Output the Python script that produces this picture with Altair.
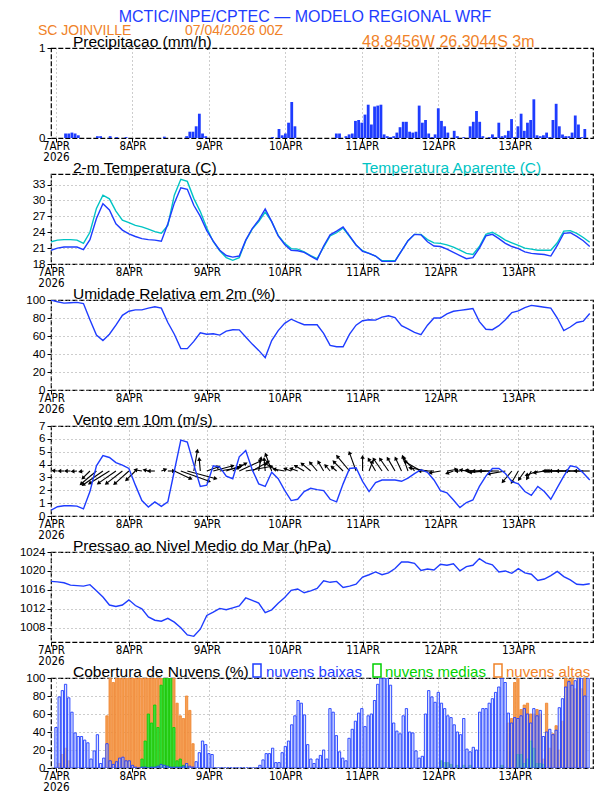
import altair as alt
import pandas as pd

# ---------------- data ----------------
HOURS = list(range(168))            # hourly steps from 07/04/2026 00Z
LINE_HOURS = list(range(0, 168, 2))  # 2-hourly samples for the curves
DAY_TICKS = [0, 24, 48, 72, 96, 120, 144]
DAY_LABELS = ["7APR", "8APR", "9APR", "10APR", "11APR", "12APR", "13APR"]
YEAR_LABEL = "2026"

PRECIP = [
    0, 0, 0, 0.05, 0.05, 0.06, 0.05, 0.03, 0, 0, 0, 0,
    0, 0.02, 0.02, 0, 0, 0.02, 0, 0.01, 0, 0, 0.01, 0,
    0, 0, 0, 0, 0, 0, 0, 0, 0, 0, 0.015, 0,
    0, 0, 0, 0, 0, 0.02, 0.07, 0.07, 0.13, 0.27, 0.05, 0.02,
    0, 0, 0, 0, 0, 0, 0, 0, 0, 0, 0, 0,
    0, 0, 0, 0, 0, 0, 0, 0, 0.01, 0, 0.1, 0.03,
    0.05, 0.17, 0.4, 0.13, 0, 0, 0, 0, 0, 0, 0, 0,
    0, 0, 0, 0, 0.05, 0.05, 0, 0.02, 0.04, 0.05, 0.19, 0.2,
    0.17, 0.26, 0.37, 0.15, 0.35, 0.36, 0.37, 0.04, 0.02, 0.01, 0.02, 0.06,
    0.12, 0.18, 0.18, 0.07, 0.06, 0.07, 0.36, 0.17, 0.2, 0.05, 0.01, 0.04,
    0.33, 0.19, 0.13, 0.06, 0, 0.08, 0.02, 0, 0.01, 0, 0.13, 0.18,
    0.3, 0.18, 0.02, 0, 0.01, 0.04, 0.01, 0.17, 0.02, 0.03, 0.08, 0.21,
    0.01, 0.13, 0.27, 0.08, 0.17, 0.2, 0.43, 0.03, 0.02, 0.03, 0.06, 0.01,
    0.2, 0.38, 0.13, 0.04, 0.02, 0.02, 0.06, 0.25, 0.15, 0.01, 0.1, 0,
]

TEMP = [
    20.6, 21.0, 21.2, 21.2, 21.2, 20.7, 22.6, 26.6, 29.4, 28.2,
    25.6, 24.4, 23.7, 23.2, 22.8, 22.6, 22.5, 22.3, 25.6, 29.5,
    32.4, 32.1, 29.1, 27.0, 24.3, 22.3, 20.6, 19.6, 19.3, 19.5,
    22.5, 24.7, 26.3, 28.4, 26.0, 23.3, 21.7, 20.6, 20.5, 20.2,
    19.5, 18.8, 21.4, 23.5, 24.2, 25.0, 23.3, 21.6, 20.4, 20.0,
    19.5, 18.5, 18.5, 18.5, 20.5, 22.4, 23.6, 23.5, 22.2, 21.4,
    21.3, 20.8, 20.2, 19.6, 19.0, 19.2, 21.0, 23.3, 23.6, 22.8,
    21.9, 21.3, 20.9, 20.3, 20.0, 19.9, 19.8, 19.5, 21.5, 23.8,
    23.9, 23.2, 22.4, 21.3,
]

TEMP_APP = [
    22.2, 22.5, 22.6, 22.6, 22.5, 21.9, 24.0, 28.5, 31.0, 30.3,
    28.0, 26.3, 25.8, 25.3, 25.0, 24.6, 24.1, 23.8, 25.3, 31.0,
    34.0, 33.6, 30.4, 27.9, 24.8, 22.2, 20.5, 19.2, 18.7, 19.2,
    22.4, 24.6, 26.0, 27.8, 26.0, 23.4, 21.9, 20.9, 20.8, 20.3,
    19.6, 19.0, 21.2, 23.3, 23.9, 24.8, 23.2, 21.6, 20.5, 20.0,
    19.5, 18.6, 18.6, 18.6, 20.5, 22.4, 23.6, 23.6, 22.6, 22.0,
    21.9, 21.6, 21.2, 20.6, 20.0, 19.8, 21.3, 23.6, 24.0, 23.3,
    22.5, 22.0, 21.5, 21.0, 20.8, 20.6, 20.6, 20.6, 22.0, 24.2,
    24.3, 23.8, 23.0, 22.1,
]

RH = [
    100, 98, 96.5, 97, 97.4, 96, 78, 61, 55, 62,
    72, 83, 87.5, 89, 89, 91, 92.5, 91, 75, 62,
    46, 46, 54, 63.5, 62, 62.5, 61, 65.5, 67, 66.8,
    59, 51, 44, 36, 55, 66, 74, 78.7, 75.5, 72.5,
    72.5, 72.5, 63, 49.6, 48, 48, 62, 72, 77, 78,
    77.6, 81, 82.5, 80.5, 71.5, 68, 64, 61.5, 72, 80,
    80, 84.5, 87.5, 88.5, 89.5, 90.5, 76, 67.5, 67, 71.5,
    78, 86, 88, 91.5, 94, 93, 92, 91, 80, 66,
    70, 75, 76.5, 85,
]

WIND_SPEED = [
    0.45, 0.72, 0.8, 0.8, 0.77, 0.55, 1.9, 3.9, 4.7, 4.55,
    4.15, 3.95, 3.7, 2.4, 1.2, 0.7, 1.1, 0.75, 1.1, 3.5,
    5.9, 5.75, 4.0, 2.3, 2.4, 3.9, 3.8, 3.1, 2.9, 4.6,
    5.1, 3.6, 2.5, 2.3, 3.4, 2.9, 2.0, 1.2, 1.3, 1.9,
    2.15, 2.05, 1.97, 1.3, 1.1, 2.5, 3.7, 3.75, 2.7, 1.9,
    2.6, 2.8, 2.8, 2.8, 2.7, 2.95, 3.3, 3.6, 3.4, 2.8,
    1.97, 1.8, 1.25, 0.65, 1.05, 1.25, 2.3, 3.1, 3.7, 3.7,
    3.3, 2.68, 2.5, 1.9, 1.6, 2.3, 1.9, 1.3, 2.2, 3.1,
    3.9, 3.8, 3.35, 2.8,
]

# direction the wind arrow points to (degrees, counter-clockwise from east)
WIND_DIR = [
    175, 175, 180, 180, 185, 190,
    225, 220, 215, 212, 215, 218, 222, 225,
    170, 165, 180, 20, 0,
    335, 340, 345, 80, 95,
    20, 15, 10, 20, 30, 25, 10, 30,
    80, 95, 110, 150,
    170, 160, 160, 150,
    140, 130, 120, 130, 140, 135, 130, 110, 90, 70,
    120, 125, 125, 120, 115, 110, 130, 150, 170, 180,
    190, 10, 200, 180, 170, 175, 180, 185, 180, 180,
    190, 230, 240, 235, 240, 200, 190, 180, 180, 180,
    180, 180, 180, 180,
]

PRESSURE = [
    1017.8, 1017.7, 1017.5, 1017.0, 1016.9, 1016.8, 1017.1, 1015.8, 1014.5, 1012.8,
    1012.5, 1012.8, 1013.9, 1012.7, 1012.0, 1010.3, 1009.6, 1009.4, 1010.0, 1009.2,
    1008.0, 1006.5, 1006.2, 1007.7, 1010.6, 1011.3, 1012.1, 1011.8, 1012.2, 1012.6,
    1014.3, 1013.8, 1013.2, 1011.2, 1011.8, 1013.2, 1014.4, 1015.9, 1016.2, 1015.4,
    1015.8, 1016.3, 1017.9, 1017.6, 1017.8, 1016.5, 1016.8, 1017.2, 1018.7, 1019.2,
    1019.8, 1019.2, 1019.6, 1020.5, 1021.9, 1021.9, 1021.6, 1020.1, 1020.4, 1020.2,
    1021.4, 1021.2, 1021.5, 1020.0, 1020.9, 1021.2, 1022.6, 1021.7, 1021.3, 1019.8,
    1020.0, 1019.5, 1020.5, 1019.6, 1019.3, 1018.0, 1018.3, 1019.0, 1019.9, 1018.8,
    1018.1, 1017.2, 1017.1, 1017.3,
]

CLOUD_LOW = [
    45, 79, 86, 93, 78, 62, 39, 35, 35, 31, 28, 10,
    19, 37, 5, 11, 27, 8, 4, 7, 11, 12, 8, 8,
    3, 1, 0, 1, 1, 0, 1, 1, 2, 4, 3, 2,
    1, 1, 1, 1, 2, 5, 2, 1, 7, 17, 30, 26,
    16, 15, 0, 0, 0, 0, 0, 0, 0, 0, 0, 0,
    0, 0, 0, 0, 3, 9, 16, 16, 22, 6, 6, 17,
    24, 30, 48, 58, 75, 72, 59, 26, 10, 5, 10, 14,
    20, 10, 66, 62, 36, 18, 11, 8, 33, 43, 52, 61,
    66, 46, 58, 60, 75, 93, 100, 100, 100, 92, 50, 41,
    38, 58, 66, 40, 39, 19, 11, 13, 60, 86, 79, 73,
    84, 72, 66, 58, 56, 48, 40, 37, 55, 21, 18, 23,
    20, 62, 66, 66, 72, 77, 84, 90, 100, 95, 61, 50,
    56, 55, 58, 66, 60, 50, 66, 58, 64, 35, 40, 43,
    37, 42, 67, 77, 90, 96, 92, 97, 100, 100, 80, 100,
]

CLOUD_MID = [
    0, 0, 0, 0, 0, 0, 0, 0, 0, 0, 0, 0,
    0, 0, 0, 0, 0, 0, 0, 0, 0, 0, 0, 0,
    0, 0, 0, 10, 30, 60, 50, 70, 45, 92, 100, 100,
    100, 45, 8, 10, 3, 2, 0, 0, 0, 0, 0, 0,
    0, 0, 0, 0, 0, 0, 0, 0, 0, 0, 0, 0,
    0, 0, 0, 0, 0, 0, 0, 0, 0, 0, 0, 0,
    0, 0, 0, 0, 0, 0, 0, 0, 0, 0, 0, 0,
    0, 0, 0, 0, 0, 0, 0, 0, 0, 0, 0, 0,
    0, 0, 0, 0, 0, 0, 0, 0, 0, 0, 0, 0,
    0, 0, 0, 0, 0, 0, 0, 0, 0, 0, 0, 0,
    0, 8, 6, 6, 4, 0, 3, 0, 3, 0, 3, 0,
    0, 0, 0, 0, 0, 0, 0, 0, 3, 0, 0, 0,
    0, 15, 15, 5, 10, 30, 22, 5, 5, 4, 0, 0,
    0, 0, 0, 0, 0, 0, 0, 0, 0, 0, 0, 0,
]

CLOUD_HIGH = [
    0, 5, 15, 22, 8, 0, 0, 0, 0, 0, 0, 0,
    0, 0, 0, 0, 58, 100, 95, 100, 100, 100, 100, 100,
    100, 100, 100, 100, 100, 100, 100, 100, 100, 100, 100, 100,
    100, 100, 72, 58, 55, 80, 64, 27, 0, 0, 0, 0,
    0, 0, 0, 0, 0, 0, 0, 0, 0, 0, 0, 0,
    0, 0, 0, 0, 0, 0, 0, 0, 0, 0, 0, 0,
    0, 0, 0, 0, 0, 0, 0, 0, 0, 0, 0, 0,
    0, 0, 0, 0, 0, 0, 0, 0, 0, 0, 0, 0,
    0, 0, 0, 0, 0, 0, 0, 0, 0, 0, 0, 0,
    0, 0, 0, 0, 0, 0, 0, 0, 0, 0, 0, 0,
    0, 0, 0, 0, 0, 0, 0, 0, 0, 0, 0, 0,
    0, 0, 0, 0, 0, 0, 0, 0, 0, 0, 50, 55,
    95, 100, 65, 70, 72, 60, 60, 65, 60, 10, 72, 22,
    38, 47, 20, 52, 100, 98, 100, 88, 100, 88, 100, 0,
]

TITLE_MAIN = "MCTIC/INPE/CPTEC — MODELO REGIONAL WRF"
STATION = "SC JOINVILLE"
RUN_DATE = "07/04/2026 00Z"
COORDS = "48.8456W 26.3044S 3m"
PANEL_TITLES = [
    "Precipitacao (mm/h)",
    "2-m Temperatura (C)",
    "Umidade Relativa em 2m (%)",
    "Vento em 10m (m/s)",
    "Pressao ao Nivel Medio do Mar (hPa)",
    "Cobertura de Nuvens (%)",
]
APPARENT_LABEL = "Temperatura Aparente (C)"
CLOUD_NAMES = ["nuvens baixas", "nuvens medias", "nuvens altas"]

# ---------------- style ----------------
W, H = 542, 90
BLUE = "#1e3cff"
CYAN = "#00c4c4"
ORANGE = "#f08228"
GREEN = "#00d000"
FONT_T = "Liberation Sans"
FONT_N = "Liberation Sans Narrow, DejaVu Sans Condensed, Liberation Sans"
ARROW_BASE = 3.5
ARROW_PX = 5.0

label_list = "[" + ",".join("'%s'" % d for d in DAY_LABELS) + "]"
label_expr = "datum.value == 0 ? ['%s', '%s'] : %s[round(datum.value / 24)]" % (
    DAY_LABELS[0], YEAR_LABEL, label_list)


def x_enc(field="hour"):
    return alt.X(
        f"{field}:Q",
        scale=alt.Scale(domain=[0, 167], nice=False, zero=False),
        axis=alt.Axis(values=DAY_TICKS, labelExpr=label_expr, title=None, grid=True,
                      gridColor="#9a9a9a", gridDash=[1, 3], gridWidth=1,
                      tickColor="black", tickSize=4, domain=False,
                      labelFont=FONT_N, labelFontSize=11.5, labelColor="black",
                      labelPadding=-2, labelFlush=False, labelLineHeight=11,
                      labelOverlap=False, labelBound=False),
    )


def y_enc(field, domain, values, grid=True):
    return alt.Y(
        f"{field}:Q",
        scale=alt.Scale(domain=domain, nice=False, zero=False),
        axis=alt.Axis(values=values, title=None, grid=grid, format="d",
                      gridColor="#9a9a9a", gridDash=[1, 3], gridWidth=1,
                      tickColor="black", tickSize=4, domain=False,
                      labelFont=FONT_T, labelFontSize=11.5, labelColor="black",
                      labelPadding=2, labelOverlap=False),
    )


def note(text, x, y, color="black", size=15.5, align="left"):
    return alt.Chart(alt.Data(values=[{}])).mark_text(
        text=text, color=color, fontSize=size, font=FONT_T, align=align,
        baseline="alphabetic").encode(x=alt.value(x), y=alt.value(y))


def box(x, y, color):
    return alt.Chart(alt.Data(values=[{}])).mark_rect(
        fill="white", stroke=color, strokeWidth=1.5).encode(
        x=alt.value(x), x2=alt.value(x + 8), y=alt.value(y), y2=alt.value(y + 13))


def title_note(i):
    return note(PANEL_TITLES[i], 22, -1, "black", 15.5)


# ---------------- panels ----------------
bar_df = pd.DataFrame({"hour": HOURS, "precip": PRECIP, "low": CLOUD_LOW,
                       "mid": CLOUD_MID, "high": CLOUD_HIGH})
line_df = pd.DataFrame({"hour": LINE_HOURS, "temp": TEMP, "tapp": TEMP_APP, "rh": RH,
                        "wind": WIND_SPEED, "wdir": WIND_DIR, "press": PRESSURE})

# 1 precipitation
precip = alt.Chart(bar_df).transform_filter("datum.precip > 0").mark_bar(
    size=2.8, color=BLUE, clip=True).encode(
    x=x_enc(), y=y_enc("precip", [0, 1], [0, 1], grid=False))
p1 = alt.layer(
    precip,
    note(TITLE_MAIN, 254, -26.2, BLUE, 16, "center"),
    note(STATION, -13, -13, ORANGE, 14),
    note(RUN_DATE, 134, -13, ORANGE, 14),
    note(COORDS, 311, -1, ORANGE, 16),
    title_note(0),
).properties(width=W, height=H)

# 2 temperature
tbase = alt.Chart(line_df)
t_app = tbase.mark_line(color=CYAN, strokeWidth=1.4, clip=True).encode(
    x=x_enc(), y=y_enc("tapp", [18, 35], [18, 21, 24, 27, 30, 33]))
t_air = tbase.mark_line(color=BLUE, strokeWidth=1.4, clip=True).encode(
    x=x_enc(), y=y_enc("temp", [18, 35], [18, 21, 24, 27, 30, 33]))
p2 = alt.layer(t_app, t_air, note(APPARENT_LABEL, 311, -1, CYAN, 15.5),
               title_note(1)).properties(width=W, height=H)

# 3 relative humidity
rh_line = tbase.mark_line(color=BLUE, strokeWidth=1.4, clip=True).encode(
    x=x_enc(), y=y_enc("rh", [0, 100], [0, 20, 40, 60, 80, 100]))
p3 = alt.layer(rh_line, title_note(2)).properties(width=W, height=H)

# 4 wind
vec = tbase.transform_calculate(
    y0=f"{ARROW_BASE}",
    x_end=f"datum.hour + datum.wind * cos(datum.wdir * PI / 180) * {ARROW_PX} / ({W} / 167)",
    y_end=f"{ARROW_BASE} + datum.wind * sin(datum.wdir * PI / 180) * {ARROW_PX} / ({H} / 7)",
    ang="((90 - datum.wdir) % 360 + 360) % 360",
)
wy = [0, 7]
wvals = [0, 1, 2, 3, 4, 5, 6, 7]
shafts = vec.mark_rule(color="black", strokeWidth=1.1, clip=True).encode(
    x=x_enc(), x2="x_end:Q", y=y_enc("y0", wy, wvals), y2="y_end:Q")
heads = vec.mark_point(shape="triangle", filled=True, color="black", size=20,
                       opacity=1, clip=True).encode(
    x=x_enc("x_end"), y=y_enc("y_end", wy, wvals), angle=alt.Angle("ang:Q", scale=None))
wline = tbase.mark_line(color=BLUE, strokeWidth=1.4, clip=True).encode(
    x=x_enc(), y=y_enc("wind", wy, wvals))
p4 = alt.layer(shafts, heads, wline, title_note(3)).properties(width=W, height=H)

# 5 pressure
p_line = tbase.mark_line(color=BLUE, strokeWidth=1.4, clip=True).encode(
    x=x_enc(), y=y_enc("press", [1005, 1024], [1008, 1012, 1016, 1020, 1024]))
p5 = alt.layer(p_line, title_note(4)).properties(width=W, height=H)

# 6 cloud cover
cvals = [0, 20, 40, 60, 80, 100]
c_high = alt.Chart(bar_df).transform_filter("datum.high > 0").mark_bar(
    size=2.3, fill="#f5a055", stroke=ORANGE, strokeWidth=0.8, clip=True).encode(
    x=x_enc(), y=y_enc("high", [0, 100], cvals))
c_mid = alt.Chart(bar_df).transform_filter("datum.mid > 0").mark_bar(
    size=2.3, fill="#3fdc3f", stroke=GREEN, strokeWidth=0.8, clip=True).encode(
    x=x_enc(), y=y_enc("mid", [0, 100], cvals))
c_low = alt.Chart(bar_df).mark_bar(
    size=2.3, fill="#c4d0ff", fillOpacity=0.6, stroke=BLUE, strokeWidth=0.9, clip=True).encode(
    x=x_enc(), y=y_enc("low", [0, 100], cvals))
p6 = alt.layer(
    c_high, c_mid, c_low,
    title_note(5),
    box(202, -14, BLUE), note(CLOUD_NAMES[0], 215, -1, BLUE, 15),
    box(322, -14, GREEN), note(CLOUD_NAMES[1], 334, -1, GREEN, 15),
    box(443, -14, ORANGE), note(CLOUD_NAMES[2], 455, -1, ORANGE, 15),
).properties(width=W, height=H)

chart = alt.vconcat(p1, p2, p3, p4, p5, p6, spacing=36, bounds="flush").properties(
    padding={"left": 10, "top": 0, "right": 10, "bottom": 0},
    background="white",
).configure_view(stroke="black", strokeWidth=1.2, strokeDash=[5, 2])

chart.save("out.html", embed_options={"renderer": "svg", "actions": False})
